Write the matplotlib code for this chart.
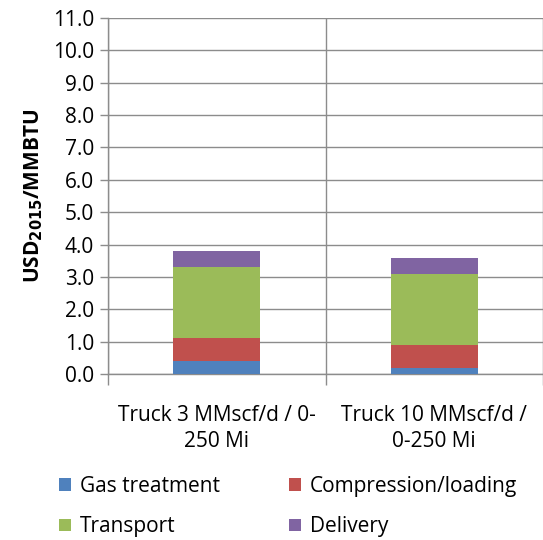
import numpy as np
import matplotlib.pyplot as plt
from matplotlib.ticker import MultipleLocator, FixedLocator

plt.rcParams['font.family'] = ['Open Sans', 'DejaVu Sans']

categories = ['Truck 3 MMscf/d / 0-\n250 Mi', 'Truck 10 MMscf/d /\n0-250 Mi']
gas_treatment = [0.41, 0.19]
compression = [0.72, 0.70]
transport = [2.19, 2.20]
delivery = [0.49, 0.49]

series = [('Gas treatment', gas_treatment, '#4F81BD'),
          ('Compression/loading', compression, '#C0504D'),
          ('Transport', transport, '#9BBB59'),
          ('Delivery', delivery, '#8064A2')]

fig = plt.figure(figsize=(5.43, 5.40), dpi=100)
ax = fig.add_axes([0.199, 0.307, 0.801, 0.660])

x = np.arange(len(categories))
bottom = np.zeros(len(categories))
bars = []
for name, vals, col in series:
    bars.append(ax.bar(x, vals, 0.4, bottom=bottom, color=col, label=name, zorder=3))
    bottom += np.array(vals)

ax.set_xlim(-0.5, 1.5)
ax.set_ylim(0, 11)
ax.yaxis.set_major_locator(MultipleLocator(1))
ax.set_yticklabels([f'{v:.1f}' for v in ax.get_yticks()])
ax.set_xticks(x)
ax.set_xticklabels(categories, fontsize=15, linespacing=1.3)
ax.xaxis.set_minor_locator(FixedLocator([-0.5, 0.5, 1.5]))
ax.tick_params(axis='x', which='major', length=0, pad=22)
ax.tick_params(axis='x', which='minor', length=8, color='#8c8c8c', width=1)
ax.tick_params(axis='y', labelsize=15, length=6, color='#8c8c8c', width=1, pad=4)

ax.grid(axis='y', color='#8c8c8c', linewidth=1.0, zorder=0)
ax.grid(axis='x', which='minor', color='#8c8c8c', linewidth=1.0, zorder=0)
for s in ['top', 'right']:
    ax.spines[s].set_visible(False)
for s in ['left', 'bottom']:
    ax.spines[s].set_color('#8c8c8c')
    ax.spines[s].set_linewidth(1.0)

ax.set_ylabel(r'USD$_{\mathbf{2015}}$/MMBTU', fontsize=15, fontweight='bold', labelpad=6)

# row-wise legend: fill columns in the order gas, transport | compression, delivery
order = [0, 2, 1, 3]
fig.legend([bars[i] for i in order], [series[i][0] for i in order],
           loc='lower left', bbox_to_anchor=(0.075, -0.03), ncol=2, frameon=False,
           fontsize=15, handlelength=0.55, handleheight=0.55, handletextpad=0.45,
           columnspacing=3.3, labelspacing=0.95)

fig.savefig('out.png', dpi=100)
